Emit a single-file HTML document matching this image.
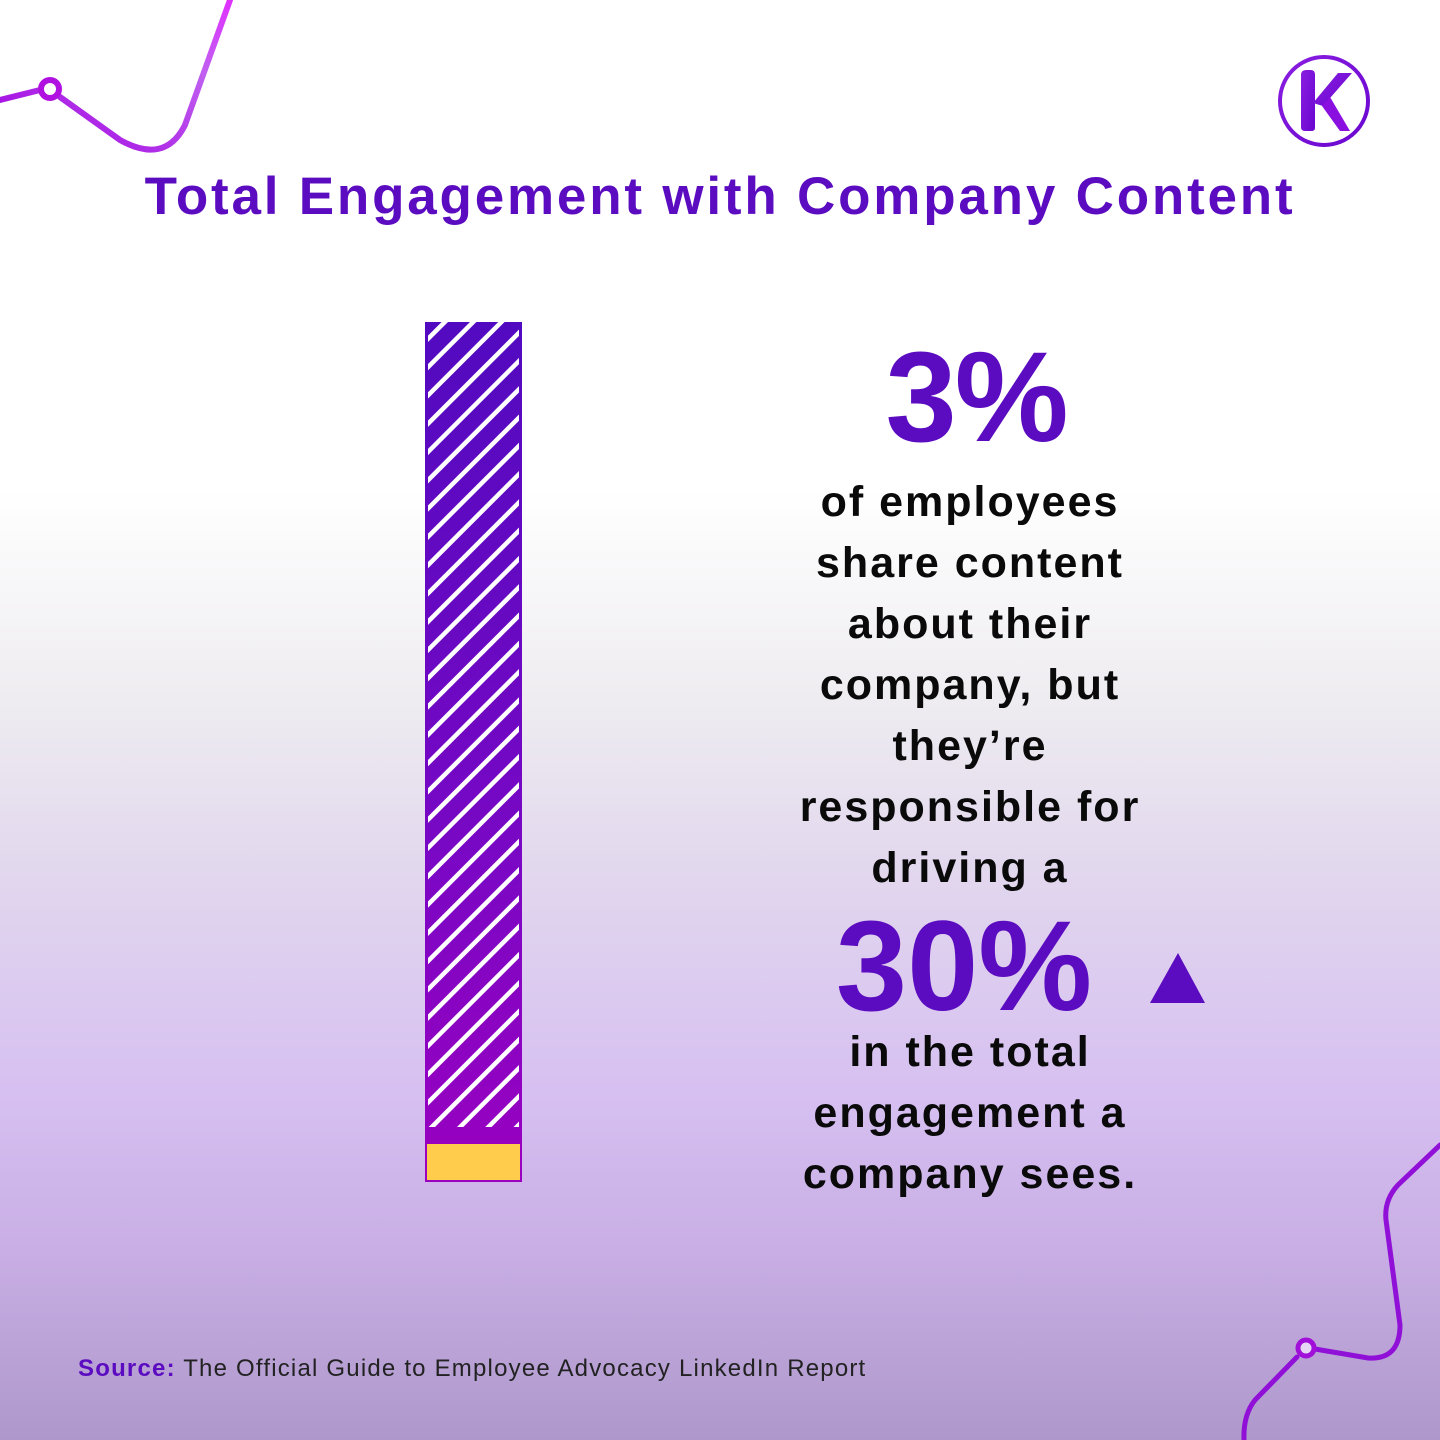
<!DOCTYPE html>
<html><head><meta charset="utf-8"><style>
html,body{margin:0;padding:0}
body{width:1440px;height:1440px;position:relative;overflow:hidden;font-family:"Liberation Sans",sans-serif;
background:linear-gradient(180deg,#ffffff 0px,#ffffff 490px,#eeecf0 700px,#e0d4ee 900px,#d6bff1 1100px,#c8aee4 1250px,#ae98cb 1440px);}
.t{position:absolute;white-space:nowrap;font-weight:bold}
#title{left:0;width:1440px;top:166px;text-align:center;font-size:53px;color:#5c0cc0;letter-spacing:2.8px}
.big{color:#5c0cc0;width:400px;text-align:center}
.body{left:770px;width:400px;text-align:center;font-size:43px;color:#0a0a0a;line-height:61px;letter-spacing:2px}
#src{left:78px;top:1355px;font-size:24px;color:#222;font-weight:normal;letter-spacing:1.2px}
#src b{color:#5c0cc0}
</style></head><body>
<svg width="1440" height="1440" style="position:absolute;left:0;top:0">
<defs>
<linearGradient id="bar" x1="0" y1="0" x2="0" y2="1"><stop offset="0" stop-color="#520ac0"/><stop offset="0.6" stop-color="#7808c4"/><stop offset="1" stop-color="#9a00c0"/></linearGradient>
<pattern id="st" width="20" height="20" patternUnits="userSpaceOnUse" patternTransform="rotate(45)">
<rect x="0" y="0" width="4.5" height="20" fill="#fff"/></pattern>
<linearGradient id="l1" x1="0" y1="1" x2="1" y2="0"><stop offset="0" stop-color="#a000e0"/><stop offset="0.7" stop-color="#c060f0"/><stop offset="1" stop-color="#e030ff"/></linearGradient>
<linearGradient id="lg" x1="0" y1="0" x2="1" y2="1"><stop offset="0" stop-color="#8a1ee0"/><stop offset="1" stop-color="#6a06d0"/></linearGradient>
</defs>
<rect x="425" y="322" width="97" height="860" fill="url(#bar)"/>
<rect x="428" y="322" width="91" height="805" fill="url(#st)"/>
<rect x="426" y="1143" width="95" height="38" fill="#ffcc4c" stroke="#9a00c0" stroke-width="2"/>
<path d="M0 100 L40 90 M60 97 L120 140 Q165 165 185 125 L230 0" fill="none" stroke="url(#l1)" stroke-width="6" stroke-linecap="round"/>
<circle cx="50" cy="89" r="9" fill="#fff" stroke="#b010e0" stroke-width="6"/>
<path d="M1440 1145 L1398 1185 Q1384 1200 1386 1220 L1400 1325 Q1400 1360 1368 1358 L1315 1349 M1297 1357 L1255 1400 Q1243 1415 1244 1440" fill="none" stroke="#9010d8" stroke-width="5" stroke-linecap="round"/>
<circle cx="1306" cy="1348" r="8" fill="#e6d8f5" stroke="#a010d8" stroke-width="5"/>
<circle cx="1324" cy="101" r="44" fill="none" stroke="url(#lg)" stroke-width="4"/>
<path d="M1301 75 Q1301 70 1306 70 L1311 70 Q1315 70 1315 75 L1315 128 Q1315 131 1311 131 L1305 131 Q1301 131 1301 127 Z" fill="url(#lg)"/>
<path d="M1313 103 L1338 73 L1352 73 L1323 106 Z" fill="url(#lg)"/>
<path d="M1322 106 L1330 97 L1350 131 L1340 131 Z" fill="#8a10e0"/>
<polygon points="1150,1003 1205,1003 1178,953" fill="#5c0cc0"/>
</svg>
<div class="t" id="title">Total Engagement with Company Content</div>
<div class="t big" style="top:328px;font-size:128px;line-height:140px;left:776px;letter-spacing:-2px">3%</div>
<div class="t body" style="top:472px">of employees<br>share content<br>about their<br>company, but<br>they’re<br>responsible for<br>driving a</div>
<div class="t big" style="top:897px;font-size:128px;line-height:140px;left:764px;letter-spacing:0px">30%</div>
<div class="t body" style="top:1022px">in the total<br>engagement a<br>company sees.</div>
<div class="t" id="src"><b>Source:</b> The Official Guide to Employee Advocacy LinkedIn Report</div>
</body></html>
